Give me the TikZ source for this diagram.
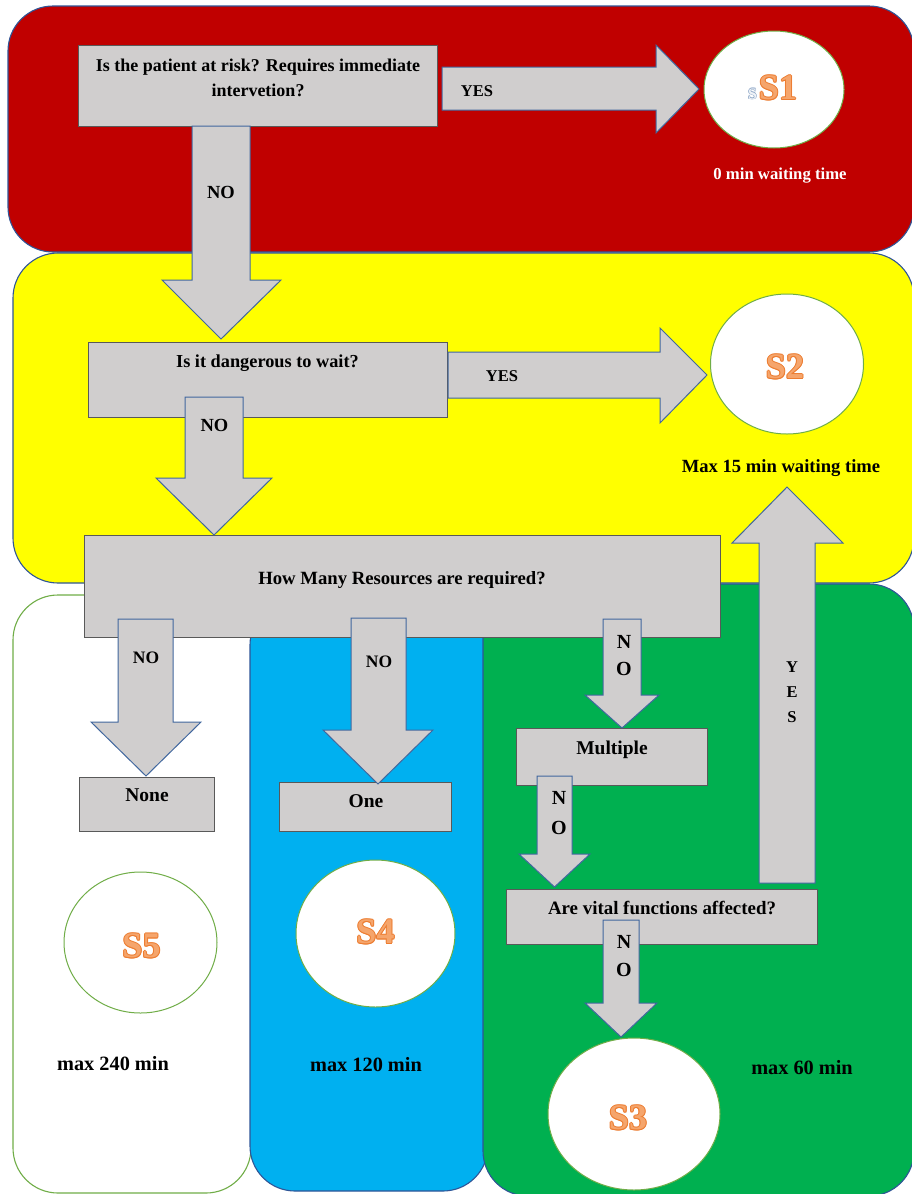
\documentclass[tikz,border=0pt]{standalone}
\usepackage{fontspec}
\setmainfont{Liberation Serif}
\usetikzlibrary{shapes.geometric}
\definecolor{rred}{HTML}{C00000}
\definecolor{ryellow}{HTML}{FFFF00}
\definecolor{rblue}{HTML}{00B0F0}
\definecolor{rgreen}{HTML}{00B050}
\definecolor{rborder}{HTML}{2F5597}
\definecolor{wborder}{HTML}{70AD47}
\definecolor{gfill}{HTML}{D0CECE}
\definecolor{gborder}{HTML}{595959}
\definecolor{aborder}{HTML}{41679E}
\definecolor{eborder}{HTML}{70AD47}
\definecolor{sdark}{HTML}{ED7D31}
\definecolor{slight}{HTML}{F5A56C}
\definecolor{sgray}{HTML}{8FA8C8}
\definecolor{sgraylight}{HTML}{EEF2F7}
\newcommand\fsz[1]{\fontsize{#1}{#1}\selectfont\bfseries}
% down block arrow: shaft xl, xr, top y, head y, head left, head right, tip x, tip y
\newcommand\blockdown[8]{\draw[blockarr] (#1,#3) -- (#2,#3) -- (#2,#4) -- (#6,#4) -- (#7,#8) -- (#5,#4) -- (#1,#4) -- cycle;}
% right block arrow: shaft left x, head base x, shaft top y, shaft bottom y, head top y, head bottom y, tip x, tip y
\newcommand\blockright[8]{\draw[blockarr] (#1,#3) -- (#2,#3) -- (#2,#5) -- (#7,#8) -- (#2,#6) -- (#2,#4) -- (#1,#4) -- cycle;}
% outlined label
\newcommand\slab[5]{% name, x, y, text, size
  \foreach \dx/\dy in {1/0,-1/0,0/1,0/-1,0.7/0.7,0.7/-0.7,-0.7/0.7,-0.7/-0.7}
    \node[txt=#5, text=sdark, xshift=\dx pt, yshift=\dy pt] at (#2,#3) {#4};
  \node[txt=#5, text=slight] (#1) at (#2,#3) {#4};}
\begin{document}
\begin{tikzpicture}[x=1pt,y=-1pt,
  region/.style={rounded corners=45pt, line width=1.1pt, draw=rborder},
  gbox/.style={draw=gborder, fill=gfill, line width=0.8pt, inner sep=0pt},
  blockarr/.style={draw=aborder, fill=gfill, line width=1pt, line join=miter},
  sell/.style={ellipse, draw=eborder, fill=white, line width=1pt, inner sep=0pt},
  txt/.style={font=\fsz{#1}, inner sep=0pt, text height={0.66*#1pt}, text depth=0pt}]
\useasboundingbox (0,0) rectangle (912,1194);
% ---- regions ----
\draw[region, fill=rred] (8,6) rectangle (914,252);
\draw[region, fill=ryellow] (13,253) rectangle (914,583);
\draw[region, fill=white, draw=wborder] (13,595) rectangle (251,1193);
\draw[region, fill=rblue] (250,600) rectangle (488,1191);
\draw[region, fill=rgreen] (483,584) rectangle (914,1196);
% ---- ellipses ----
\node[sell, minimum width=140pt, minimum height=117pt] (e1) at (774,89.5) {};
\node[sell, minimum width=153pt, minimum height=140pt] (e2) at (787,364) {};
\node[sell, minimum width=172pt, minimum height=152pt] (e3) at (634,1114) {};
\node[sell, minimum width=159pt, minimum height=147pt] (e4) at (375.5,933.5) {};
\node[sell, minimum width=153pt, minimum height=141pt] (e5) at (140.5,942.5) {};
% ---- boxes ----
\node[gbox, minimum width=359pt, minimum height=81pt] (q1) at (257.5,85.5) {};
\node[gbox, minimum width=359pt, minimum height=75pt] (q2) at (267.5,379.5) {};
\node[gbox, minimum width=636pt, minimum height=102pt] (q3) at (402,586) {};
\node[gbox, minimum width=191pt, minimum height=57pt] (bmult) at (611.5,756.5) {};
\node[gbox, minimum width=311pt, minimum height=55pt] (bvital) at (661.5,916.5) {};
\node[gbox, minimum width=135pt, minimum height=54pt] (bnone) at (146.5,804) {};
\node[gbox, minimum width=172pt, minimum height=49pt] (bone) at (365,806.5) {};
% ---- block arrows ----
\blockright{442}{656}{67}{110}{45}{133}{699}{89}
\blockright{448}{660}{352}{398}{328}{423}{707}{375}
\blockdown{192}{250}{126}{280}{162}{281}{221}{339}
\blockdown{185}{243}{397}{478}{156}{272}{214}{535}
\blockdown{603}{641}{619}{695}{585}{659}{622}{728}
\blockdown{537}{572}{776}{854}{519}{590}{554.5}{887}
\blockdown{603}{639}{920}{1003}{585}{657}{621}{1037}
\blockdown{118}{173}{619}{722}{91}{201}{146}{776}
\blockdown{351}{406}{618}{730}{323}{433}{378}{784}
\draw[blockarr] (759,883) -- (815,883) -- (815,543) -- (843,543) -- (787,487) -- (732,543) -- (759,543) -- cycle;
% ---- box texts ----
\node[txt=18] (t1a) at (258,66) {Is the patient at risk? Requires immediate};
\node[txt=18] (t1b) at (258,91) {intervetion?};
\node[txt=18.3] (t2) at (267.5,361) {Is it dangerous to wait?};
\node[txt=18.7] (t3) at (402,578) {How Many Resources are required?};
\node[txt=19.5] (tmult) at (612,748) {Multiple};
\node[txt=18.9] (tvital) at (662,908) {Are vital functions affected?};
\node[txt=19.5] (tnone) at (147,795) {None};
\node[txt=19.5] (tone) at (366,801) {One};
% ---- arrow labels ----
\node[txt=16.5] (y1) at (477,91) {YES};
\node[txt=16.5] (y2) at (502,376) {YES};
\node[txt=18.5] (n1) at (221,192) {NO};
\node[txt=18.5] (n2) at (214.5,425) {NO};
\node[txt=17.5] (n6) at (146,658) {NO};
\node[txt=17.5] (n7) at (379,662) {NO};
\node[txt=20] (n3a) at (624,642) {N};
\node[txt=20] (n3b) at (624,669) {O};
\node[txt=20] (n4a) at (559,798) {N};
\node[txt=20] (n4b) at (559,828) {O};
\node[txt=20] (n5a) at (624,942) {N};
\node[txt=20] (n5b) at (624,970) {O};
\node[txt=16.5] (ya) at (792,667) {Y};
\node[txt=16.5] (yb) at (792,692) {E};
\node[txt=16.5] (yc) at (792,717) {S};
% ---- waiting times ----
\node[txt=16.7, text=white] (w1) at (780,174) {0 min waiting time};
\node[txt=18.6] (w2) at (781,466) {Max 15 min waiting time};
\node[txt=20.3] (w5) at (113,1064) {max 240 min};
\node[txt=20.3] (w4) at (366,1065) {max 120 min};
\node[txt=20.3] (w3) at (802,1068) {max 60 min};
% ---- S labels ----
\foreach \dx/\dy in {0.6/0,-0.6/0,0/0.6,0/-0.6}
  \node[txt=16, text=sgray, xshift=\dx pt, yshift=\dy pt] at (752.5,94) {S};
\node[txt=16, text=sgraylight] (ssmall) at (752.5,94) {S};
\slab{s1}{778}{88}{S1}{36}
\slab{s2}{785}{367}{S2}{36}
\slab{s3}{628}{1118}{S3}{36}
\slab{s4}{375.5}{932}{S4}{36}
\slab{s5}{141.5}{946}{S5}{36}
\end{tikzpicture}
\end{document}
